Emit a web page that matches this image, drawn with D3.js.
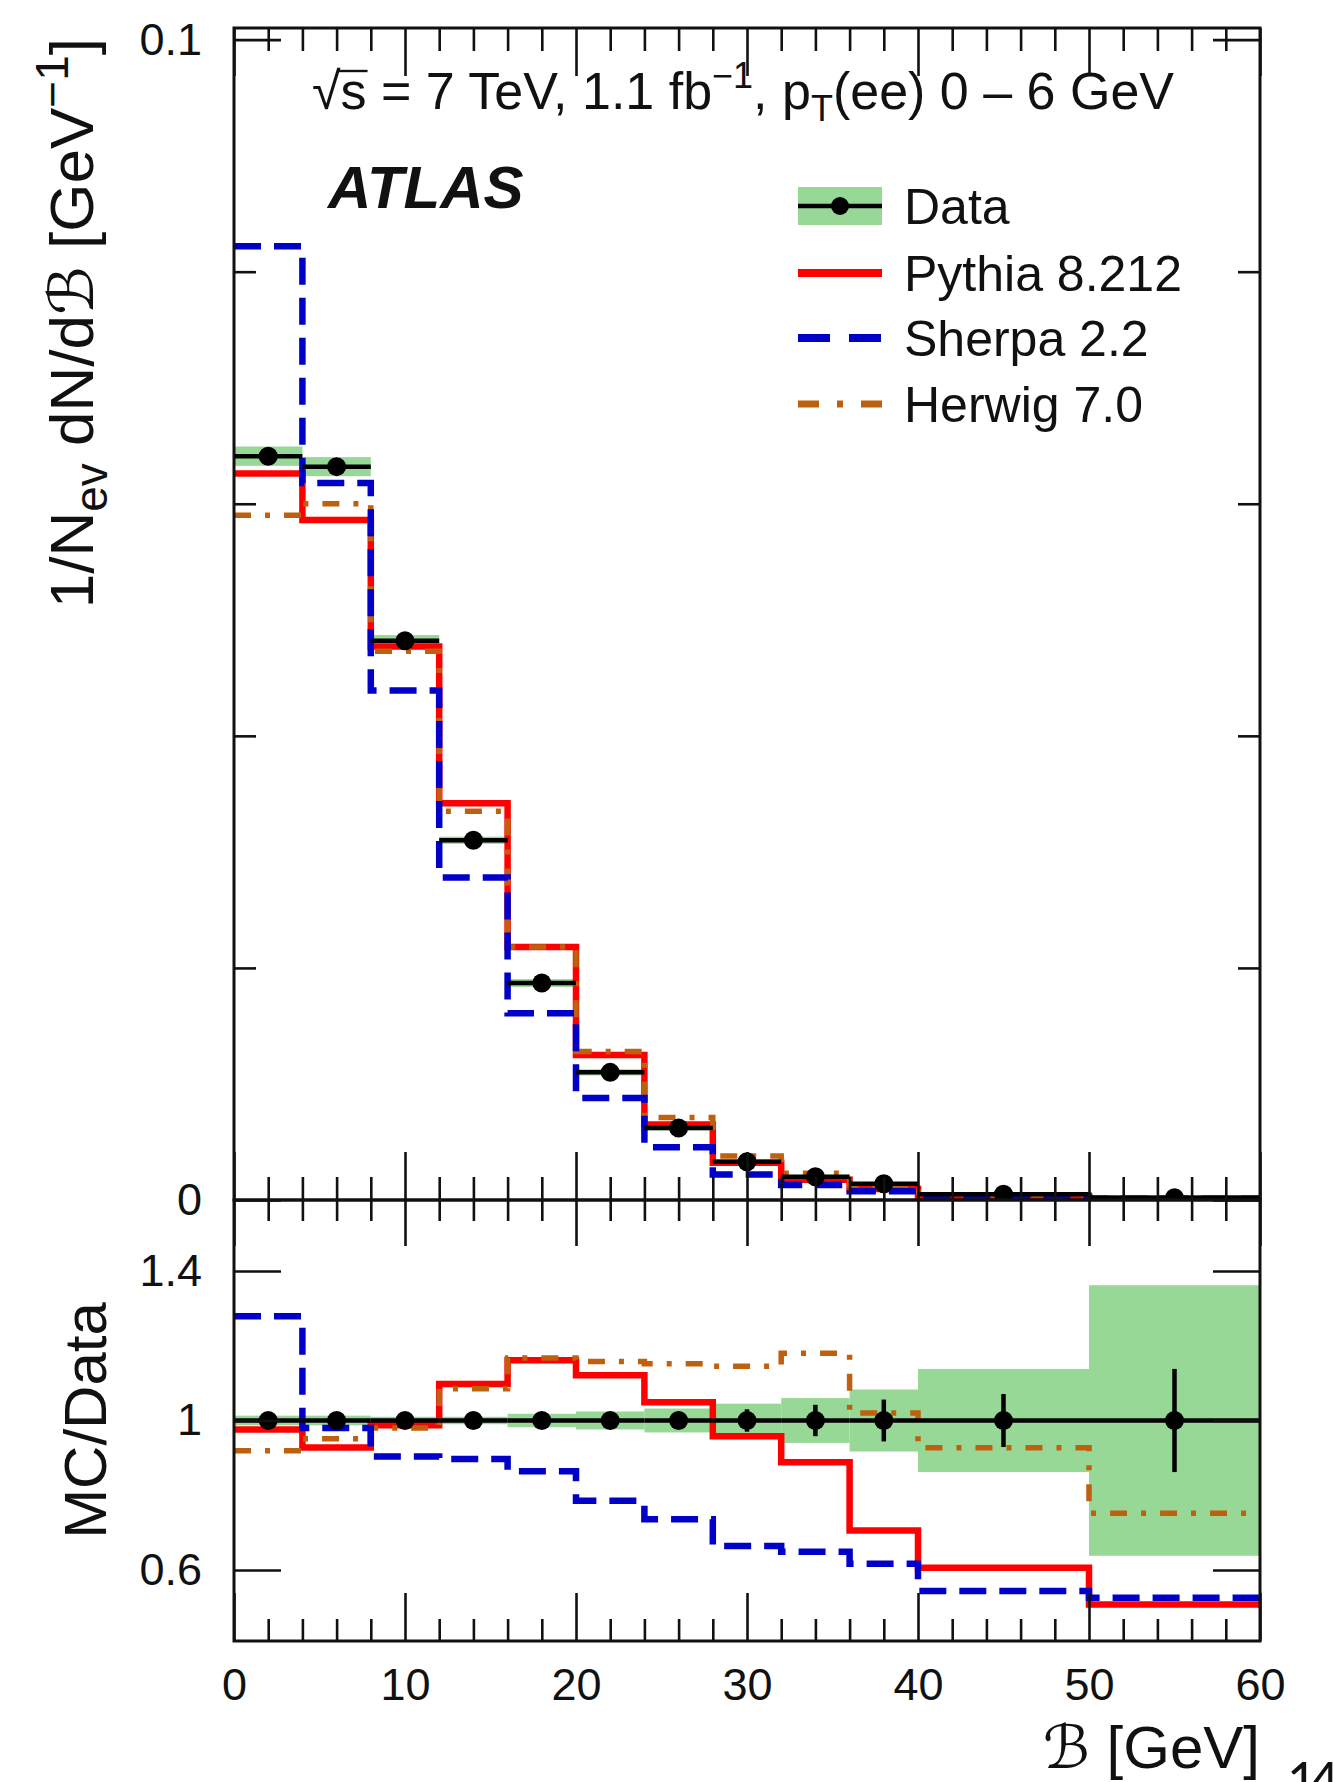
<!DOCTYPE html>
<html><head><meta charset="utf-8">
<script src="https://cdn.jsdelivr.net/npm/d3@7"></script>
<style>
html,body{margin:0;padding:0;background:#fff;}
svg{display:block;font-family:"Liberation Sans",Arial,Helvetica,sans-serif;}
</style></head><body>
<svg id="chart" width="1334" height="1782"></svg>
<script>
// Bin edges and centres of the B distribution [GeV]
const binEdges = [0,4,8,12,16,20,24,28,32,36,40,50,60];
const binCenters = [2,6,10,14,18,22,26,30,34,38,45,55];

// Normalised distribution 1/N dN/dB [GeV^-1]
const dataValues   = [0.0641,0.0632,0.0482,0.0310,0.0187,0.0110,0.0062,0.0033,0.0020,0.00140,0.0005,0.0002];
const pythiaValues = [0.0626,0.0586,0.0477,0.0342,0.0218,0.0125,0.0065,0.0032,0.00175,0.00095,0.0003,0.0001];
const sherpaValues = [0.0822,0.0618,0.0439,0.0278,0.0161,0.0088,0.00455,0.0022,0.0013,0.00075,0.00027,0.0001];
const herwigValues = [0.0590,0.0600,0.0473,0.0335,0.0218,0.0128,0.0071,0.0038,0.0023,0.00130,0.00046,0.00015];

// Relative uncertainties of the data (total -> green band, statistical -> error bar)
const dataTotalUncRel = [0.013,0.013,0.010,0.010,0.018,0.024,0.032,0.045,0.060,0.083,0.138,0.362];
const dataStatUncRel  = [0.004,0.004,0.004,0.005,0.006,0.008,0.012,0.030,0.042,0.056,0.071,0.138];

// MC / Data ratios
const pythiaRatio = [0.976,0.928,0.987,1.098,1.161,1.121,1.049,0.958,0.888,0.706,0.606,0.508];
const sherpaRatio = [1.279,0.980,0.904,0.897,0.864,0.785,0.736,0.664,0.649,0.617,0.544,0.526];
const herwigRatio = [0.919,0.951,0.980,1.085,1.167,1.158,1.152,1.145,1.180,1.020,0.927,0.752];

// Axis ticks
const xMajorTicks = [0,10,20,30,40,50,60];
const xMinorTicks = d3.range(0,61,2).filter(v => v % 10 !== 0);
const yMajorTicks = [0,0.1];
const yMinorTicks = [0.02,0.04,0.06,0.08];
const ratioTicks  = [0.6,1,1.4];

const colors = {pythia:"#ff0000", sherpa:"#0000c8", herwig:"#bf600e", band:"#97d897", data:"#000"};

const svg = d3.select("#chart");
const X0 = 234, X1 = 1260, TOP = 28, MID = 1200, BOT = 1641;

const x  = d3.scaleLinear().domain([0,60]).range([X0,X1]);
const y  = d3.scaleLinear().domain([0,0.101]).range([MID,TOP]);
const yr = d3.scaleLinear().domain([0.41,1.59]).range([BOT,MID]);

const nb = binCenters.length;
const bins = d3.range(nb).map(i => ({lo:binEdges[i], hi:binEdges[i+1], c:binCenters[i]}));

function step(scale, vals) {
  const pts = binEdges.map((e,i) => [e, vals[Math.min(i, vals.length-1)]]);
  return d3.line().x(d => x(d[0])).y(d => scale(d[1])).curve(d3.curveStepAfter)(pts);
}

// ---------- panels ----------
function panel(yScale, mc, dataV, clipId, yTop, yBot) {
  svg.append("clipPath").attr("id", clipId)
    .append("rect").attr("x", X0).attr("y", yTop).attr("width", X1-X0).attr("height", yBot-yTop);
  const g = svg.append("g").attr("clip-path", `url(#${clipId})`);

  // total uncertainty band
  g.selectAll("rect.band").data(bins).join("rect").attr("class","band")
    .attr("x", d => x(d.lo)).attr("width", d => x(d.hi)-x(d.lo))
    .attr("y", (d,i) => yScale(dataV[i]*(1+dataTotalUncRel[i])))
    .attr("height", (d,i) => yScale(dataV[i]*(1-dataTotalUncRel[i])) - yScale(dataV[i]*(1+dataTotalUncRel[i])))
    .attr("fill", colors.band);

  // MC histograms
  g.append("path").attr("d", step(yScale, mc.pythia)).attr("fill","none")
    .attr("stroke", colors.pythia).attr("stroke-width", 6.5);
  g.append("path").attr("d", step(yScale, mc.herwig)).attr("fill","none")
    .attr("stroke", colors.herwig).attr("stroke-width", 5.5).attr("stroke-dasharray","17,14,5,14");
  g.append("path").attr("d", step(yScale, mc.sherpa)).attr("fill","none")
    .attr("stroke", colors.sherpa).attr("stroke-width", 6.5).attr("stroke-dasharray","27,13");

  // data: horizontal bin-width bars, statistical bars, markers
  g.selectAll("line.xerr").data(bins).join("line").attr("class","xerr")
    .attr("x1", d => x(d.lo)).attr("x2", d => x(d.hi))
    .attr("y1", (d,i) => yScale(dataV[i])).attr("y2", (d,i) => yScale(dataV[i]))
    .attr("stroke", colors.data).attr("stroke-width", 4.5);
  g.selectAll("line.yerr").data(bins).join("line").attr("class","yerr")
    .attr("x1", d => x(d.c)).attr("x2", d => x(d.c))
    .attr("y1", (d,i) => yScale(dataV[i]*(1+dataStatUncRel[i])))
    .attr("y2", (d,i) => yScale(dataV[i]*(1-dataStatUncRel[i])))
    .attr("stroke", colors.data).attr("stroke-width", 4.5);
  g.selectAll("circle").data(bins).join("circle")
    .attr("cx", d => x(d.c)).attr("cy", (d,i) => yScale(dataV[i])).attr("r", 9.5)
    .attr("fill", colors.data);
}

panel(y, {pythia:pythiaValues, sherpa:sherpaValues, herwig:herwigValues}, dataValues, "clipTop", TOP, MID);
panel(yr, {pythia:pythiaRatio, sherpa:sherpaRatio, herwig:herwigRatio}, bins.map(() => 1), "clipRatio", MID, BOT);

// ---------- axes ----------
function tickAxis(axisFn, scale, values, size, tx, ty) {
  svg.append("g").attr("transform", `translate(${tx},${ty})`)
    .call(axisFn(scale).tickValues(values).tickSizeInner(size).tickSizeOuter(0).tickFormat(""))
    .call(s => s.select(".domain").remove())
    .call(s => s.selectAll("line").attr("stroke","#111").attr("stroke-width",2.6));
}
// x ticks: top frame, shared middle line, bottom frame
tickAxis(d3.axisBottom, x, xMajorTicks, 48, 0, TOP);
tickAxis(d3.axisBottom, x, xMinorTicks, 23, 0, TOP);
tickAxis(d3.axisTop,    x, xMajorTicks, 48, 0, MID);
tickAxis(d3.axisTop,    x, xMinorTicks, 23, 0, MID);
tickAxis(d3.axisBottom, x, xMajorTicks, 46, 0, MID);
tickAxis(d3.axisBottom, x, xMinorTicks, 21, 0, MID);
tickAxis(d3.axisTop,    x, xMajorTicks, 48, 0, BOT);
tickAxis(d3.axisTop,    x, xMinorTicks, 22, 0, BOT);
// y ticks of the distribution panel
tickAxis(d3.axisLeft,  y, yMajorTicks, -47, X0, 0);
tickAxis(d3.axisLeft,  y, yMinorTicks, -22, X0, 0);
tickAxis(d3.axisRight, y, yMajorTicks, -47, X1, 0);
tickAxis(d3.axisRight, y, yMinorTicks, -22, X1, 0);
// y ticks of the ratio panel
tickAxis(d3.axisLeft,  yr, ratioTicks, -47, X0, 0);
tickAxis(d3.axisRight, yr, ratioTicks, -47, X1, 0);

// frames
[[TOP,MID],[MID,BOT]].forEach(([a,b]) =>
  svg.append("rect").attr("x",X0).attr("y",a).attr("width",X1-X0).attr("height",b-a)
    .attr("fill","none").attr("stroke","#111").attr("stroke-width",3));

// tick labels
function labelAxis(axisFn, scale, values, fmt, pad, tx, ty) {
  svg.append("g").attr("transform", `translate(${tx},${ty})`)
    .call(axisFn(scale).tickValues(values).tickSize(0).tickPadding(pad).tickFormat(fmt))
    .call(s => s.select(".domain").remove())
    .call(s => s.selectAll("text").attr("font-size",45)
      .attr("font-family","'Liberation Sans',Arial,sans-serif").attr("fill","#111"));
}
labelAxis(d3.axisBottom, x, xMajorTicks, d3.format("d"), 27, 0, BOT);
labelAxis(d3.axisLeft, y, yMajorTicks, d => d === 0 ? "0" : "0.1", 32, X0, 0);
labelAxis(d3.axisLeft, yr, ratioTicks, d => d === 1 ? "1" : d3.format(".1f")(d), 32, X0, 0);

// axis titles
const yTitle = svg.append("text").attr("transform", `translate(93,38) rotate(-90)`)
  .attr("text-anchor","end").attr("font-size",62).attr("fill","#111");
yTitle.append("tspan").text("1/N");
yTitle.append("tspan").attr("font-size",46).attr("dy",14).text("ev");
yTitle.append("tspan").attr("dy",-14).text(" dN/d");
yTitle.append("tspan").attr("font-family","'DejaVu Serif','DejaVu Sans',serif").text("ℬ");
yTitle.append("tspan").text(" [GeV");
yTitle.append("tspan").attr("font-size",46).attr("dy",-25).text("−1");
yTitle.append("tspan").attr("dy",25).text("]");

svg.append("text").attr("transform", `translate(106,${yr(1)}) rotate(-90)`)
  .attr("text-anchor","middle").attr("font-size",60).attr("fill","#111").text("MC/Data");

const xTitle = svg.append("text").attr("x", X1).attr("y", 1768)
  .attr("text-anchor","end").attr("font-size",60).attr("fill","#111");
xTitle.append("tspan").attr("font-family","'DejaVu Serif','DejaVu Sans',serif").attr("font-style","italic").text("ℬ");
xTitle.append("tspan").text(" [GeV]");

// energy / luminosity caption
const capY = 109;
const cap = svg.append("text").attr("x",312).attr("y",capY).attr("font-size",52).attr("fill","#111");
cap.append("tspan").text("√s");
cap.append("tspan").text(" = 7 TeV, 1.1 fb");
cap.append("tspan").attr("font-size",36).attr("dy",-21).text("−1");
cap.append("tspan").attr("dy",21).text(", p");
cap.append("tspan").attr("font-size",36).attr("dy",12).text("T");
cap.append("tspan").attr("dy",-12).text("(ee) 0 – 6 GeV");
// bar of the square-root sign, carried over the "s"
{
  const node = cap.node();
  const rootEnd = node.getEndPositionOfChar(0).x;
  const sEnd = node.getEndPositionOfChar(1).x;
  svg.append("line").attr("x1", rootEnd - 2).attr("x2", sEnd + 1)
    .attr("y1", capY - 38).attr("y2", capY - 38)
    .attr("stroke","#111").attr("stroke-width",2.4);
}

svg.append("text").attr("x",328).attr("y",208).attr("font-size",60)
  .attr("font-weight","bold").attr("font-style","italic").attr("fill","#111").text("ATLAS");

// legend
const legendItems = ["Data","Pythia 8.212","Sherpa 2.2","Herwig 7.0"];
const legendY = [206,273,338,404];
const LX0 = 798, LX1 = 882;
const lg = svg.append("g");
lg.append("rect").attr("x",LX0).attr("y",legendY[0]-19).attr("width",LX1-LX0).attr("height",38).attr("fill",colors.band);
lg.append("line").attr("x1",LX0).attr("x2",LX1).attr("y1",legendY[0]).attr("y2",legendY[0])
  .attr("stroke",colors.data).attr("stroke-width",4.5);
lg.append("circle").attr("cx",(LX0+LX1)/2).attr("cy",legendY[0]).attr("r",9).attr("fill",colors.data);
lg.append("line").attr("x1",LX0).attr("x2",LX1).attr("y1",legendY[1]).attr("y2",legendY[1])
  .attr("stroke",colors.pythia).attr("stroke-width",8);
lg.append("line").attr("x1",LX0).attr("x2",LX1).attr("y1",legendY[2]).attr("y2",legendY[2])
  .attr("stroke",colors.sherpa).attr("stroke-width",8).attr("stroke-dasharray","32,19");
lg.append("line").attr("x1",LX0).attr("x2",LX1).attr("y1",legendY[3]).attr("y2",legendY[3])
  .attr("stroke",colors.herwig).attr("stroke-width",7).attr("stroke-dasharray","21,18,6,18");
lg.selectAll("text").data(legendItems).join("text")
  .attr("x",904).attr("y",(d,i) => legendY[i]+18).attr("font-size",50).attr("fill","#111").text(d => d);

// page number
svg.append("text").attr("x",1287).attr("y",1800).attr("font-size",52).attr("letter-spacing",-8)
  .attr("font-family","Lato,'Open Sans',sans-serif").attr("fill","#111").text("14");
</script>
</body></html>
